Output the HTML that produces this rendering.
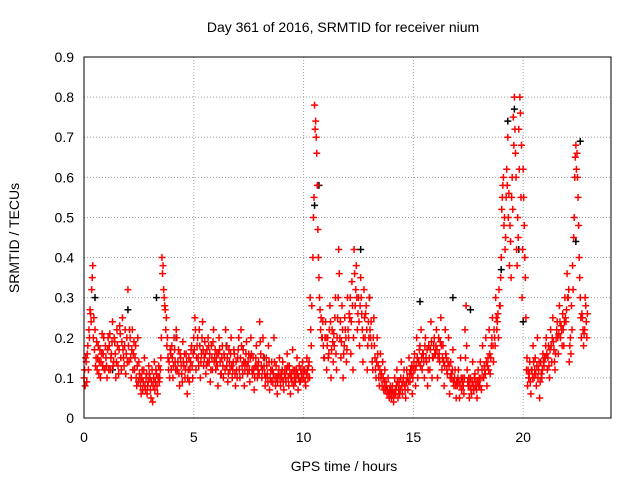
<!DOCTYPE html>
<html><head><meta charset="utf-8"><style>
body{margin:0;background:#fff;width:640px;height:480px;overflow:hidden}
svg{display:block;font-family:"Liberation Sans",sans-serif}
</style></head><body>
<svg id="chart" width="640" height="480">
<text x="343" y="32" text-anchor="middle" font-size="14">Day 361 of 2016, SRMTID for receiver nium</text>
<text transform="translate(19,238) rotate(-90)" text-anchor="middle" font-size="14">SRMTID / TECUs</text>
<text x="344" y="471" text-anchor="middle" font-size="14">GPS time / hours</text>
<g id="grid"></g>
<g id="ticks"></g>
<g id="black"></g>
<g id="red"></g>
<rect x="84" y="57" width="527" height="361" fill="none" stroke="#000" stroke-width="1"/>
</svg>
<script>
const xTicks=[0,5,10,15,20];
const yTicks=[0,0.1,0.2,0.3,0.4,0.5,0.6,0.7,0.8,0.9];
const yTickLabels=["0","0.1","0.2","0.3","0.4","0.5","0.6","0.7","0.8","0.9"];
const hourValues=[
[0.1,0.08,0.14,0.16,0.12,0.2,0.26,0.32,0.38,0.25,0.22,0.15,0.12,0.18,0.14,0.1,0.16,0.13,0.2,0.12],
[0.15,0.1,0.2,0.18,0.12,0.16,0.24,0.14,0.19,0.1,0.22,0.13,0.17,0.21,0.12,0.25,0.15,0.18,0.11,0.2],
[0.32,0.14,0.2,0.1,0.22,0.16,0.12,0.18,0.08,0.2,0.14,0.1,0.06,0.12,0.09,0.15,0.07,0.11,0.08,0.13],
[0.1,0.05,0.12,0.08,0.14,0.09,0.11,0.06,0.13,0.1,0.15,0.4,0.38,0.3,0.27,0.25,0.2,0.12,0.1,0.16],
[0.18,0.1,0.2,0.14,0.22,0.12,0.17,0.08,0.15,0.11,0.19,0.13,0.1,0.16,0.06,0.12,0.09,0.14,0.18,0.1],
[0.2,0.25,0.12,0.18,0.15,0.22,0.1,0.16,0.24,0.13,0.19,0.11,0.17,0.2,0.14,0.09,0.18,0.12,0.22,0.15],
[0.12,0.16,0.08,0.2,0.14,0.11,0.18,0.1,0.15,0.22,0.13,0.09,0.17,0.12,0.2,0.1,0.14,0.16,0.08,0.12],
[0.15,0.2,0.1,0.22,0.13,0.17,0.08,0.14,0.19,0.11,0.16,0.09,0.2,0.12,0.15,0.07,0.13,0.18,0.1,0.14],
[0.24,0.16,0.1,0.2,0.13,0.08,0.15,0.11,0.18,0.07,0.12,0.14,0.09,0.2,0.1,0.13,0.06,0.11,0.15,0.08],
[0.1,0.14,0.07,0.12,0.09,0.16,0.1,0.13,0.06,0.11,0.17,0.08,0.12,0.1,0.15,0.07,0.13,0.09,0.11,0.14],
[0.1,0.12,0.08,0.15,0.1,0.14,0.3,0.18,0.12,0.5,0.78,0.74,0.66,0.47,0.35,0.27,0.25,0.2,0.18,0.15],
[0.24,0.12,0.2,0.16,0.28,0.1,0.22,0.14,0.18,0.3,0.12,0.25,0.42,0.2,0.15,0.28,0.1,0.18,0.22,0.14],
[0.3,0.2,0.25,0.16,0.34,0.12,0.42,0.28,0.38,0.22,0.3,0.18,0.35,0.26,0.14,0.32,0.2,0.28,0.12,0.24],
[0.3,0.2,0.18,0.12,0.25,0.15,0.1,0.2,0.13,0.08,0.16,0.11,0.14,0.07,0.12,0.09,0.06,0.1,0.05,0.08],
[0.05,0.08,0.04,0.1,0.06,0.12,0.05,0.09,0.07,0.14,0.06,0.1,0.08,0.05,0.12,0.07,0.15,0.09,0.11,0.06],
[0.12,0.16,0.08,0.2,0.1,0.14,0.18,0.22,0.12,0.16,0.1,0.2,0.14,0.08,0.18,0.12,0.24,0.1,0.15,0.2],
[0.16,0.22,0.1,0.2,0.14,0.25,0.12,0.18,0.08,0.22,0.15,0.11,0.2,0.06,0.14,0.1,0.17,0.08,0.12,0.05],
[0.08,0.12,0.05,0.15,0.07,0.1,0.06,0.22,0.28,0.12,0.08,0.05,0.1,0.06,0.14,0.07,0.11,0.09,0.05,0.12],
[0.1,0.14,0.07,0.18,0.1,0.12,0.2,0.08,0.15,0.22,0.11,0.18,0.25,0.14,0.2,0.3,0.22,0.26,0.32,0.28],
[0.4,0.55,0.6,0.5,0.45,0.62,0.7,0.56,0.48,0.35,0.6,0.75,0.8,0.66,0.42,0.5,0.72,0.8,0.55,0.3],
[0.62,0.48,0.35,0.12,0.08,0.1,0.14,0.06,0.12,0.18,0.1,0.15,0.08,0.2,0.12,0.05,0.14,0.1,0.16,0.13],
[0.15,0.2,0.12,0.18,0.1,0.22,0.14,0.25,0.17,0.12,0.2,0.24,0.16,0.28,0.2,0.22,0.26,0.18,0.3,0.24],
[0.36,0.3,0.14,0.2,0.28,0.38,0.45,0.6,0.68,0.66,0.55,0.4,0.3,0.2,0.25,0.18,0.22,0.28,0.2]
];
const hourValuesB=[
[0.12,0.15,0.09,0.18,0.22,0.27,0.24,0.35,0.2,0.17,0.13,0.19,0.15,0.11,0.17,0.14,0.21,0.16,0.12,0.18],
[0.13,0.17,0.12,0.21,0.15,0.19,0.13,0.2,0.16,0.14,0.18,0.11,0.23,0.15,0.19,0.17,0.13,0.22,0.16,0.14],
[0.18,0.22,0.15,0.17,0.12,0.19,0.15,0.1,0.13,0.09,0.11,0.08,0.1,0.07,0.12,0.08,0.1,0.06,0.09,0.11],
[0.07,0.09,0.04,0.1,0.07,0.12,0.08,0.1,0.09,0.12,0.2,0.36,0.32,0.28,0.22,0.18,0.15,0.14,0.17,0.12],
[0.15,0.13,0.17,0.12,0.2,0.14,0.11,0.16,0.13,0.09,0.14,0.16,0.12,0.14,0.1,0.15,0.12,0.17,0.13,0.16],
[0.17,0.22,0.15,0.2,0.13,0.18,0.14,0.2,0.17,0.15,0.16,0.13,0.14,0.18,0.16,0.12,0.15,0.19,0.14,0.17],
[0.14,0.13,0.16,0.17,0.11,0.15,0.13,0.16,0.12,0.18,0.15,0.11,0.14,0.16,0.13,0.12,0.17,0.11,0.14,0.1],
[0.17,0.12,0.15,0.18,0.11,0.14,0.12,0.16,0.13,0.14,0.12,0.15,0.16,0.11,0.12,0.1,0.15,0.13,0.12,0.11],
[0.19,0.13,0.12,0.15,0.11,0.1,0.13,0.09,0.14,0.1,0.09,0.12,0.11,0.14,0.08,0.1,0.09,0.12,0.1,0.11],
[0.12,0.09,0.11,0.1,0.12,0.13,0.08,0.11,0.1,0.09,0.12,0.1,0.09,0.12,0.11,0.1,0.09,0.12,0.1,0.12],
[0.12,0.09,0.11,0.12,0.13,0.1,0.22,0.28,0.4,0.55,0.72,0.7,0.58,0.4,0.3,0.22,0.2,0.24,0.15,0.2],
[0.2,0.18,0.15,0.22,0.24,0.17,0.19,0.21,0.25,0.16,0.2,0.3,0.36,0.24,0.19,0.22,0.16,0.25,0.2,0.17],
[0.22,0.26,0.3,0.24,0.28,0.2,0.36,0.32,0.3,0.26,0.24,0.28,0.3,0.22,0.2,0.25,0.26,0.22,0.18,0.2],
[0.22,0.24,0.14,0.2,0.18,0.12,0.14,0.16,0.1,0.12,0.1,0.08,0.1,0.09,0.07,0.08,0.07,0.06,0.07,0.06],
[0.07,0.06,0.06,0.07,0.08,0.09,0.07,0.06,0.1,0.08,0.09,0.12,0.07,0.09,0.1,0.09,0.11,0.12,0.13,0.1],
[0.14,0.12,0.13,0.15,0.14,0.17,0.13,0.15,0.16,0.14,0.18,0.15,0.17,0.12,0.15,0.17,0.19,0.15,0.18,0.16],
[0.18,0.17,0.15,0.16,0.19,0.18,0.15,0.14,0.13,0.16,0.12,0.14,0.13,0.1,0.11,0.12,0.09,0.1,0.08,0.09],
[0.1,0.09,0.08,0.1,0.09,0.08,0.1,0.15,0.18,0.09,0.1,0.08,0.07,0.09,0.08,0.1,0.08,0.07,0.09,0.08],
[0.08,0.1,0.12,0.1,0.13,0.11,0.14,0.13,0.12,0.16,0.15,0.2,0.18,0.22,0.18,0.25,0.24,0.2,0.28,0.35],
[0.52,0.58,0.48,0.42,0.55,0.58,0.5,0.38,0.44,0.55,0.52,0.68,0.72,0.6,0.38,0.45,0.62,0.76,0.68,0.42],
[0.55,0.4,0.25,0.15,0.12,0.11,0.09,0.12,0.1,0.14,0.12,0.11,0.13,0.1,0.14,0.09,0.11,0.12,0.14,0.15],
[0.18,0.16,0.15,0.13,0.17,0.18,0.2,0.19,0.14,0.16,0.22,0.2,0.21,0.24,0.23,0.18,0.22,0.24,0.25,0.27],
[0.3,0.32,0.18,0.16,0.22,0.32,0.5,0.65,0.62,0.6,0.48,0.35,0.25,0.26,0.22,0.21,0.3,0.24,0.26]
];
const blackTimes=[0.5,1.3,2.0,3.3,4.2,6.5,8.2,10.5,10.7,12.6,13.0,15.3,16.8,17.6,19.0,19.3,19.6,19.8,20.0,22.4,22.6];
const blackValues=[0.3,0.12,0.27,0.3,0.2,0.18,0.15,0.53,0.58,0.42,0.3,0.29,0.3,0.27,0.37,0.74,0.77,0.42,0.24,0.44,0.69];
const X0=84,X1=611,Y0=418,Y1=57,XMAX=24,YMAX=0.9;
function xs(v){return X0+(X1-X0)*v/XMAX}
function ys(v){return Y0-(Y0-Y1)*v/YMAX}
const NS="http://www.w3.org/2000/svg";
function el(tag,attrs,parent){const e=document.createElementNS(NS,tag);for(const k in attrs)e.setAttribute(k,attrs[k]);parent.appendChild(e);return e}
const grid=document.getElementById('grid'),ticks=document.getElementById('ticks');
xTicks.forEach(t=>{const x=xs(t);
 if(t>0){const g=el('line',{x1:x,x2:x,y1:Y0,y2:Y1,stroke:'#a0a0a0','stroke-dasharray':'1,2'},grid);
 
 }
 const tx=el('text',{x:x,y:Y0+24,'text-anchor':'middle','font-size':14},ticks);tx.textContent=t;
 
 });
yTicks.forEach((t,i)=>{const y=ys(t);
 if(t>0&&t<YMAX){const g=el('line',{x1:X0,x2:X1,y1:y,y2:y,stroke:'#a0a0a0','stroke-dasharray':'1,2'},grid);
 
 }
 const tx=el('text',{x:X0-10,y:y+5,'text-anchor':'end','font-size':14},ticks);tx.textContent=yTickLabels[i];
 
 });
function plus(g,x,y,c,name){const p=el('path',{d:`M${x-3.5},${y}H${x+3.5}M${x},${y-3.5}V${y+3.5}`,stroke:c,'stroke-width':1.5,fill:'none'},g);
 
 }
const bg=document.getElementById('black');
blackTimes.forEach((t,i)=>plus(bg,xs(t),ys(blackValues[i]),'#000','black-point'));
const rg=document.getElementById('red');
hourValues.forEach((vals,h)=>{vals.forEach((v,i)=>{const t=h+i/20;plus(rg,xs(t),ys(v),'#ff0000','red-point');});});
hourValuesB.forEach((vals,h)=>{vals.forEach((v,i)=>{const t=h+(i+0.5)/20;plus(rg,xs(t),ys(v),'#ff0000','red-point');});});
</script>
</body></html>
